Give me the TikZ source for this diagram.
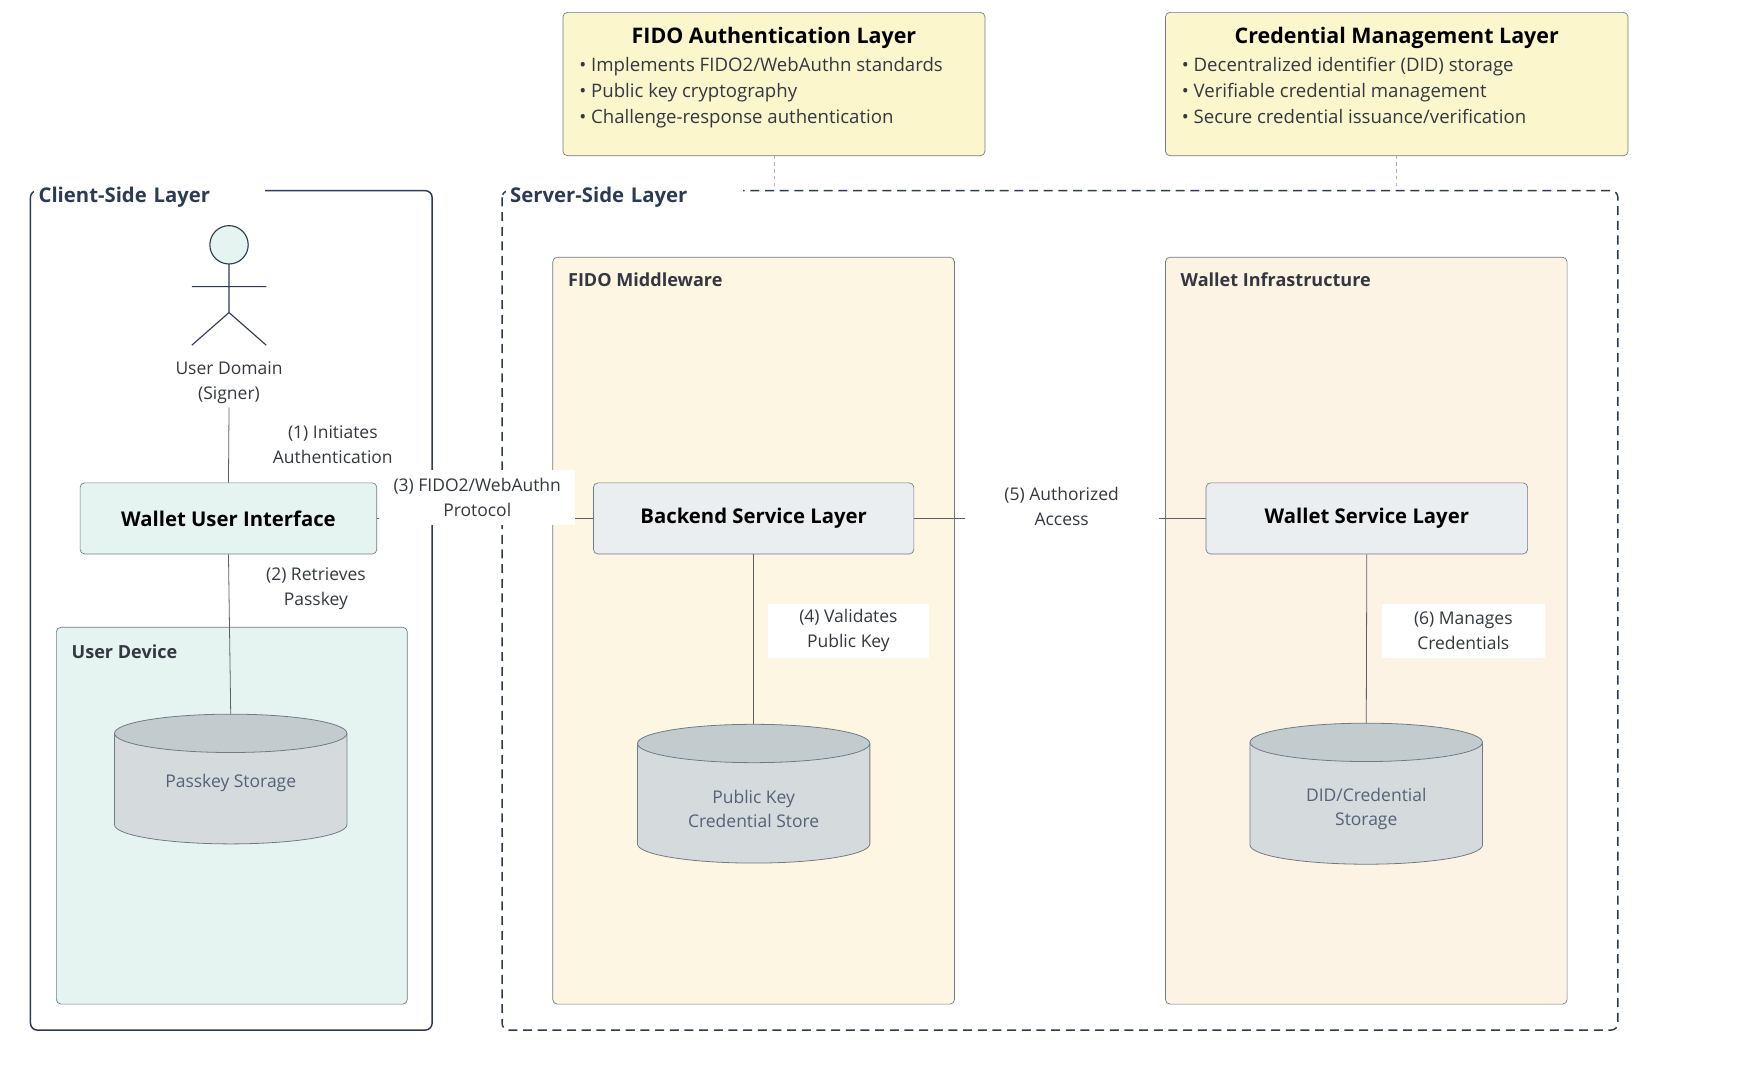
\documentclass[tikz,border=0pt]{standalone}
\usepackage{fontspec}
\setmainfont{Open Sans}
\usetikzlibrary{positioning}

\definecolor{navy}{HTML}{2B3A55}
\definecolor{notefill}{HTML}{FBF6CC}
\definecolor{mintfill}{HTML}{E6F4F1}
\definecolor{cremefill}{HTML}{FDF6E3}
\definecolor{peachfill}{HTML}{FDF3E4}
\definecolor{boxgray}{HTML}{EBEEF0}
\definecolor{edgegray}{HTML}{6E7B85}
\definecolor{cylbody}{HTML}{D5DBDC}
\definecolor{cyltop}{HTML}{C2CCCE}
\definecolor{txt}{HTML}{333840}

\tikzset{
  layer/.style={draw=navy, line width=1.3pt, rounded corners=6pt},
  group/.style={draw=edgegray, line width=0.6pt, rounded corners=4pt},
  service/.style={draw=edgegray, fill=boxgray, line width=0.6pt, rounded corners=4pt,
    minimum height=63pt, font=\fontsize{18}{22}\selectfont\bfseries, text=black},
  note/.style={draw=edgegray, fill=notefill, line width=0.6pt, rounded corners=4pt},
  lbl/.style={font=\fontsize{15.5}{22}\selectfont, text=txt, align=center},
  bullets/.style={font=\fontsize{16.5}{23}\selectfont, text=txt, align=left, anchor=north west},
  link/.style={draw=txt!80, line width=0.7pt},
  hint/.style={draw=gray!60, dashed, line width=0.8pt},
}

\newcommand{\dbcyl}[6]{% name, cx, top y, bottom y, text y, text
  \fill[cylbody] (#2-103,#3) -- (#2-103,#4) arc[start angle=180,end angle=0,x radius=103,y radius=17] -- (#2+103,#3) -- cycle;
  \draw[edgegray, line width=0.7pt] (#2-103,#3) -- (#2-103,#4) arc[start angle=180,end angle=0,x radius=103,y radius=17] -- (#2+103,#3);
  \draw[edgegray, line width=0.7pt, fill=cyltop] (#2,#3) ellipse[x radius=103, y radius=17];
  \coordinate (#1-top) at (#2,#3-17);
  \node[lbl, text=navy!80] (#1) at (#2,#5) {#6};
}

\begin{document}
\begin{tikzpicture}[x=1pt, y=-1pt]
  \useasboundingbox (0,0) rectangle (1560,960);

  % notes
  \draw[note] (499,11) rectangle (873,138);
  \node[font=\fontsize{19}{22}\selectfont\bfseries] (fidoT) at (686,34) {FIDO Authentication Layer};
  \node[bullets] (fidoB) at (510,47)
    {• Implements FIDO2/WebAuthn standards\\• Public key cryptography\\• Challenge-response authentication};
  \draw[note] (1033,11) rectangle (1443,138);
  \node[font=\fontsize{19}{22}\selectfont\bfseries] (credT) at (1238,34) {Credential Management Layer};
  \node[bullets] (credB) at (1044,47)
    {• Decentralized identifier (DID) storage\\• Verifiable credential management\\• Secure credential issuance/verification};
  \draw[hint] (686,138) -- (686,168);
  \draw[hint] (1238,138) -- (1238,168);

  % layers
  \draw[layer] (27,169) rectangle (383,913);
  \draw[layer, dash pattern=on 8pt off 5pt] (445,169) rectangle (1434,913);
  \node[fill=white, inner sep=4pt, anchor=west, text=navy, font=\fontsize{18}{22}\selectfont\bfseries, text width=197pt, align=left] (client) at (30,175) {Client-Side Layer};
  \node[fill=white, inner sep=4pt, anchor=west, text=navy, font=\fontsize{18}{22}\selectfont\bfseries, text width=202pt, align=left] (server) at (448,175) {Server-Side Layer};

  % groups
  \draw[group, fill=cremefill] (490,228) rectangle (846,890);
  \node[anchor=west, font=\fontsize{16}{20}\selectfont\bfseries, text=txt] (fido) at (500,248) {FIDO Middleware};
  \draw[group, fill=peachfill] (1033,228) rectangle (1389,890);
  \node[anchor=west, font=\fontsize{16}{20}\selectfont\bfseries, text=txt] (winfra) at (1043,248) {Wallet Infrastructure};
  \draw[group, fill=mintfill] (50,556) rectangle (361,890);
  \node[anchor=west, font=\fontsize{16}{20}\selectfont\bfseries, text=txt] (device) at (60,578) {User Device};

  % actor
  \draw[navy, line width=1pt, fill=mintfill] (203,217) circle (17);
  \draw[navy, line width=1pt] (203,234) -- (203,277) (170,254) -- (236,254)
    (170,306) -- (203,277) -- (236,306);
  \node[lbl] (user) at (203,339) {User Domain\\(Signer)};

  % services
  \node[service, fill=mintfill, minimum width=263pt] (wui) at (202.5,459.5) {Wallet User Interface};
  \node[service, minimum width=284pt] (backend) at (668,459.5) {Backend Service Layer};
  \node[service, minimum width=285pt] (wsl) at (1211.5,459.5) {Wallet Service Layer};

  % storage
  \dbcyl{passkey}{204.5}{650}{731}{694}{Passkey Storage}
  \dbcyl{pkstore}{668}{659}{748}{717}{Public Key\\Credential Store}
  \dbcyl{didstore}{1211}{658}{749}{717}{DID/Credential\\Storage}

  % connectors
  \draw[link] (user.south) -- (wui.north);
  \node[lbl] (l1) at (295,394) {(1) Initiates\\Authentication};
  \draw[link] (wui.south) -- (passkey-top);
  \node[lbl] (l2) at (280,522) {(2) Retrieves\\Passkey};
  \draw[link] (wui.east) -- (backend.west);
  \node[lbl, fill=white, minimum width=174pt, minimum height=49pt] (l3) at (423,441) {(3) FIDO2/WebAuthn\\Protocol};
  \draw[link] (backend.east) -- (wsl.west);
  \node[lbl, fill=white, minimum width=172pt, minimum height=49pt] (l5) at (941,449) {(5) Authorized\\Access};
  \draw[link] (backend.south) -- (pkstore-top);
  \node[lbl, fill=white, minimum width=142pt, minimum height=48pt] (l4) at (752,559) {(4) Validates\\Public Key};
  \draw[link] (wsl.south) -- (didstore-top);
  \node[lbl, fill=white, minimum width=144pt, minimum height=48pt] (l6) at (1297,559) {(6) Manages\\Credentials};
\end{tikzpicture}
\end{document}
